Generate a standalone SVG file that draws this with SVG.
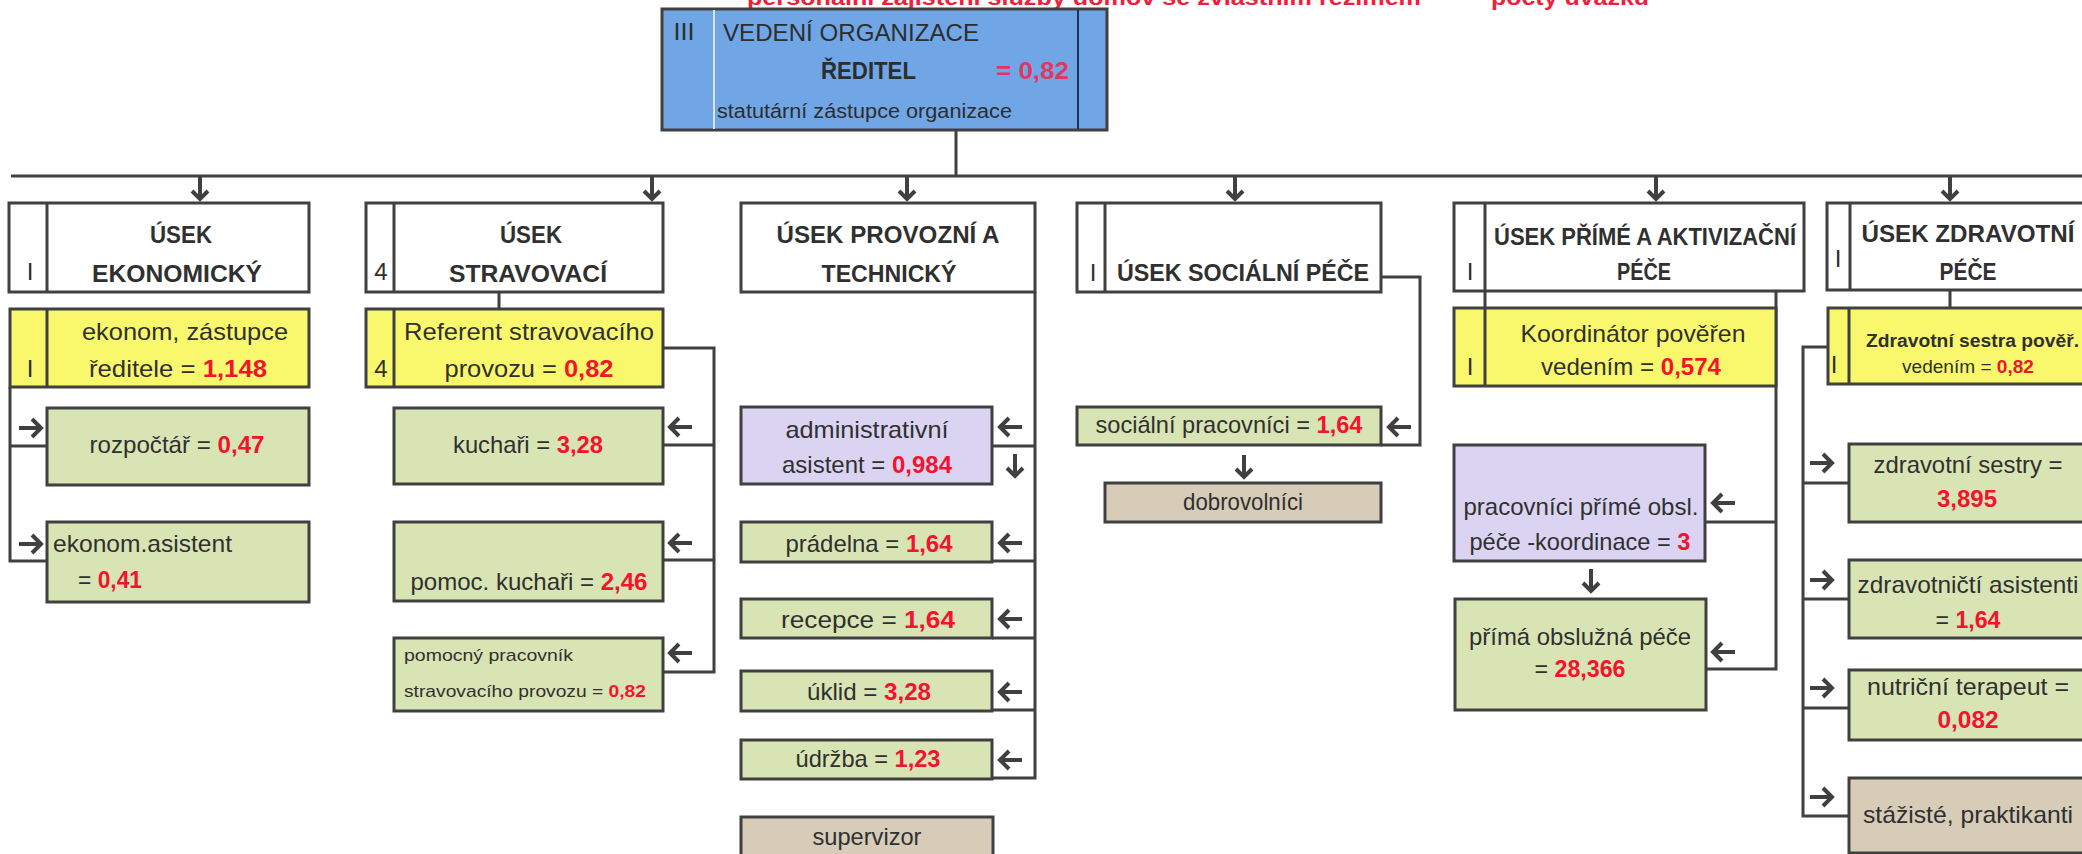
<svg xmlns="http://www.w3.org/2000/svg" xmlns:xlink="http://www.w3.org/1999/xlink" width="2082" height="854" viewBox="0 0 2082 854">
<style>
.bx{stroke:#404040;stroke-width:3}
.wh{fill:#ffffff}.ye{fill:#f9f86c}.gr{fill:#d8e4b3}.lv{fill:#dad4f2}.tn{fill:#d6ccb7}.bl{fill:#70a6e6}
.dv{stroke:#404040;stroke-width:3;fill:none}
.cn{stroke:#404040;stroke-width:3;fill:none}
.ar{stroke:#404040;stroke-width:4;fill:none;stroke-linejoin:miter}
text{font-family:"Liberation Sans",Arial,sans-serif;font-size:24px;fill:#303030}
.c{text-anchor:middle}
.b{font-weight:bold}
.r{fill:#f2142e;font-weight:bold}
.s{font-size:17px}
.m{font-size:18px}
</style>
<defs>
<path id="aL" class="ar" d="M11,0 H-11 M-2,-9 L-11,0 L-2,9"/>
<path id="aR" class="ar" d="M-11,0 H11 M2,-9 L11,0 L2,9"/>
<path id="aD" class="ar" d="M0,-11 V11 M-8,3 L0,11 L8,3"/>
</defs>
<rect width="2082" height="854" fill="#ffffff"/>

<text class="b" x="747" y="5" textLength="674" lengthAdjust="spacingAndGlyphs" style="fill:#f0203c;font-size:22px">personální zajištění služby domov se zvláštním režimem</text>
<text class="b" x="1491" y="5" textLength="158" lengthAdjust="spacingAndGlyphs" style="fill:#f0203c;font-size:22px">počty úvazků</text>

<g id="connectors">
<path class="cn" d="M956,130 V176"/>
<path class="cn" d="M11,176 H2090"/>
<path class="cn" d="M10,387 V561 H47 M10,446 H47"/>
<path class="cn" d="M499,292 V309 M663,348 H714 V672 H663 M714,445 H663 M714,560 H663"/>
<path class="cn" d="M1035,292 V778 H992 M1035,446 H992 M1035,561 H992 M1035,638 H992 M1035,710 H992"/>
<path class="cn" d="M1381,277 H1420 V445 H1381"/>
<path class="cn" d="M1485,291 V309 M1776,291 V669 H1706 M1776,522 H1705"/>
<path class="cn" d="M1950,290 V308 M1828,347 H1803 V816 H1849 M1803,483 H1849 M1803,599 H1849 M1803,708 H1849"/>
<use xlink:href="#aD" x="200" y="188"/>
<use xlink:href="#aD" x="652" y="188"/>
<use xlink:href="#aD" x="907" y="188"/>
<use xlink:href="#aD" x="1235" y="188"/>
<use xlink:href="#aD" x="1656" y="188"/>
<use xlink:href="#aD" x="1950" y="188"/>
<use xlink:href="#aR" x="30" y="428"/>
<use xlink:href="#aR" x="30" y="544"/>
<use xlink:href="#aL" x="681" y="427"/>
<use xlink:href="#aL" x="681" y="543"/>
<use xlink:href="#aL" x="681" y="653"/>
<use xlink:href="#aL" x="1011" y="427"/>
<use xlink:href="#aD" x="1015" y="465"/>
<use xlink:href="#aL" x="1011" y="543"/>
<use xlink:href="#aL" x="1011" y="619"/>
<use xlink:href="#aL" x="1011" y="692"/>
<use xlink:href="#aL" x="1011" y="760"/>
<use xlink:href="#aL" x="1400" y="427"/>
<use xlink:href="#aD" x="1244" y="466"/>
<use xlink:href="#aL" x="1724" y="503"/>
<use xlink:href="#aD" x="1591" y="580"/>
<use xlink:href="#aL" x="1724" y="652"/>
<use xlink:href="#aR" x="1821" y="463"/>
<use xlink:href="#aR" x="1821" y="580"/>
<use xlink:href="#aR" x="1821" y="688"/>
<use xlink:href="#aR" x="1821" y="797"/>
</g>

<g id="reditel">
<rect class="bx bl" x="662" y="9" width="445" height="121"/>
<line x1="714" y1="10" x2="714" y2="129" stroke="#d8e4f4" stroke-width="2"/>
<line x1="1078" y1="10" x2="1078" y2="129" stroke="#1f3450" stroke-width="2"/>
<text x="684" y="40" class="c" textLength="21" lengthAdjust="spacingAndGlyphs" style="fill:#2d2d2d">III</text>
<text x="723" y="41" textLength="256" lengthAdjust="spacingAndGlyphs" style="fill:#2d2d2d">VEDENÍ ORGANIZACE</text>
<text x="821" y="79" class="b" textLength="95" lengthAdjust="spacingAndGlyphs" style="fill:#2d2d2d">ŘEDITEL</text>
<text x="996" y="79" class="b" textLength="73" lengthAdjust="spacingAndGlyphs" style="fill:#e2365f">= 0,82</text>
<text x="717" y="118" textLength="295" lengthAdjust="spacingAndGlyphs" style="font-size:20px;fill:#2d2d2d">statutární zástupce organizace</text>
</g>

<g id="usek-ekonomicky">
<rect class="bx wh" x="9" y="203" width="300" height="89"/>
<line class="dv" x1="47" y1="203" x2="47" y2="292"/>
<text x="30" y="280" class="c">I</text>
<text x="181" y="243" class="c b" textLength="62" lengthAdjust="spacingAndGlyphs">ÚSEK</text>
<text x="177" y="282" class="c b" textLength="170" lengthAdjust="spacingAndGlyphs">EKONOMICKÝ</text>
</g>
<g id="ekonom">
<rect class="bx ye" x="10" y="309" width="299" height="78"/>
<line class="dv" x1="47" y1="309" x2="47" y2="387"/>
<text x="30" y="377" class="c">I</text>
<text x="185" y="340" class="c" textLength="206" lengthAdjust="spacingAndGlyphs">ekonom, zástupce</text>
<text x="178" y="377" class="c" textLength="178" lengthAdjust="spacingAndGlyphs">ředitele = <tspan class="r">1,148</tspan></text>
</g>
<g id="rozpoctar">
<rect class="bx gr" x="47" y="408" width="262" height="77"/>
<text x="177" y="453" class="c" textLength="175" lengthAdjust="spacingAndGlyphs">rozpočtář = <tspan class="r">0,47</tspan></text>
</g>
<g id="ekonom-asistent">
<rect class="bx gr" x="47" y="522" width="262" height="80"/>
<text x="53" y="552" textLength="179" lengthAdjust="spacingAndGlyphs">ekonom.asistent</text>
<text x="78" y="588" textLength="64" lengthAdjust="spacingAndGlyphs">= <tspan class="r">0,41</tspan></text>
</g>

<g id="usek-stravovaci">
<rect class="bx wh" x="366" y="203" width="297" height="89"/>
<line class="dv" x1="394" y1="203" x2="394" y2="292"/>
<text x="381" y="280" class="c">4</text>
<text x="531" y="243" class="c b" textLength="62" lengthAdjust="spacingAndGlyphs">ÚSEK</text>
<text x="528" y="282" class="c b" textLength="158" lengthAdjust="spacingAndGlyphs">STRAVOVACÍ</text>
</g>
<g id="referent">
<rect class="bx ye" x="366" y="309" width="297" height="78"/>
<line class="dv" x1="394" y1="309" x2="394" y2="387"/>
<text x="381" y="377" class="c">4</text>
<text x="529" y="340" class="c" textLength="250" lengthAdjust="spacingAndGlyphs">Referent stravovacího</text>
<text x="529" y="377" class="c" textLength="169" lengthAdjust="spacingAndGlyphs">provozu = <tspan class="r">0,82</tspan></text>
</g>
<g id="kuchari">
<rect class="bx gr" x="394" y="408" width="269" height="76"/>
<text x="528" y="453" class="c" textLength="150" lengthAdjust="spacingAndGlyphs">kuchaři = <tspan class="r">3,28</tspan></text>
</g>
<g id="pomoc-kuchari">
<rect class="bx gr" x="394" y="522" width="269" height="79"/>
<text x="529" y="590" class="c" textLength="237" lengthAdjust="spacingAndGlyphs">pomoc. kuchaři = <tspan class="r">2,46</tspan></text>
</g>
<g id="pomocny-pracovnik">
<rect class="bx gr" x="394" y="638" width="269" height="73"/>
<text x="404" y="661" class="s" textLength="169" lengthAdjust="spacingAndGlyphs">pomocný pracovník</text>
<text x="404" y="697" class="s" textLength="242" lengthAdjust="spacingAndGlyphs">stravovacího provozu = <tspan class="r">0,82</tspan></text>
</g>

<g id="usek-provozni">
<rect class="bx wh" x="741" y="203" width="294" height="89"/>
<text x="888" y="243" class="c b" textLength="223" lengthAdjust="spacingAndGlyphs">ÚSEK PROVOZNÍ A</text>
<text x="889" y="282" class="c b" textLength="135" lengthAdjust="spacingAndGlyphs">TECHNICKÝ</text>
</g>
<g id="administrativni">
<rect class="bx lv" x="741" y="407" width="251" height="77"/>
<text x="867" y="438" class="c" textLength="163" lengthAdjust="spacingAndGlyphs">administrativní</text>
<text x="867" y="473" class="c" textLength="170" lengthAdjust="spacingAndGlyphs">asistent = <tspan class="r">0,984</tspan></text>
</g>
<g id="pradelna">
<rect class="bx gr" x="741" y="522" width="251" height="40"/>
<text x="869" y="552" class="c" textLength="167" lengthAdjust="spacingAndGlyphs">prádelna = <tspan class="r">1,64</tspan></text>
</g>
<g id="recepce">
<rect class="bx gr" x="741" y="599" width="251" height="39"/>
<text x="868" y="628" class="c" textLength="174" lengthAdjust="spacingAndGlyphs">recepce = <tspan class="r">1,64</tspan></text>
</g>
<g id="uklid">
<rect class="bx gr" x="741" y="671" width="251" height="40"/>
<text x="869" y="700" class="c" textLength="124" lengthAdjust="spacingAndGlyphs">úklid = <tspan class="r">3,28</tspan></text>
</g>
<g id="udrzba">
<rect class="bx gr" x="741" y="740" width="251" height="39"/>
<text x="868" y="767" class="c" textLength="145" lengthAdjust="spacingAndGlyphs">údržba = <tspan class="r">1,23</tspan></text>
</g>
<g id="supervizor">
<rect class="bx tn" x="741" y="817" width="252" height="60"/>
<text x="867" y="845" class="c" textLength="109" lengthAdjust="spacingAndGlyphs">supervizor</text>
</g>

<g id="usek-socialni">
<rect class="bx wh" x="1077" y="203" width="304" height="89"/>
<line class="dv" x1="1105" y1="203" x2="1105" y2="292"/>
<text x="1093" y="281" class="c">I</text>
<text x="1243" y="281" class="c b" textLength="252" lengthAdjust="spacingAndGlyphs">ÚSEK SOCIÁLNÍ PÉČE</text>
</g>
<g id="socialni-pracovnici">
<rect class="bx gr" x="1077" y="407" width="304" height="38"/>
<text x="1229" y="433" class="c" textLength="267" lengthAdjust="spacingAndGlyphs">sociální pracovníci = <tspan class="r">1,64</tspan></text>
</g>
<g id="dobrovolnici">
<rect class="bx tn" x="1105" y="483" width="276" height="39"/>
<text x="1243" y="510" class="c" textLength="120" lengthAdjust="spacingAndGlyphs">dobrovolníci</text>
</g>

<g id="usek-prime">
<rect class="bx wh" x="1454" y="203" width="350" height="88"/>
<line class="dv" x1="1485" y1="203" x2="1485" y2="291"/>
<text x="1470" y="280" class="c">I</text>
<text x="1645" y="245" class="c b" textLength="302" lengthAdjust="spacingAndGlyphs">ÚSEK PŘÍMÉ A AKTIVIZAČNÍ</text>
<text x="1644" y="280" class="c b" textLength="54" lengthAdjust="spacingAndGlyphs">PÉČE</text>
</g>
<g id="koordinator">
<rect class="bx ye" x="1454" y="308" width="322" height="78"/>
<line class="dv" x1="1485" y1="308" x2="1485" y2="386"/>
<text x="1470" y="375" class="c">I</text>
<text x="1633" y="342" class="c" textLength="225" lengthAdjust="spacingAndGlyphs">Koordinátor pověřen</text>
<text x="1631" y="375" class="c" textLength="180" lengthAdjust="spacingAndGlyphs">vedením = <tspan class="r">0,574</tspan></text>
</g>
<g id="pracovnici-prime">
<rect class="bx lv" x="1454" y="445" width="251" height="116"/>
<text x="1581" y="515" class="c" textLength="235" lengthAdjust="spacingAndGlyphs">pracovníci přímé obsl.</text>
<text x="1580" y="550" class="c" textLength="221" lengthAdjust="spacingAndGlyphs">péče -koordinace = <tspan class="r">3</tspan></text>
</g>
<g id="prima-obsluzna">
<rect class="bx gr" x="1455" y="599" width="251" height="111"/>
<text x="1580" y="645" class="c" textLength="222" lengthAdjust="spacingAndGlyphs">přímá obslužná péče</text>
<text x="1580" y="677" class="c" textLength="91" lengthAdjust="spacingAndGlyphs">= <tspan class="r">28,366</tspan></text>
</g>

<g id="usek-zdravotni">
<rect class="bx wh" x="1827" y="203" width="270" height="87"/>
<line class="dv" x1="1850" y1="203" x2="1850" y2="290"/>
<text x="1838" y="267" class="c">I</text>
<text x="1968" y="242" class="c b" textLength="213" lengthAdjust="spacingAndGlyphs">ÚSEK ZDRAVOTNÍ</text>
<text x="1968" y="280" class="c b" textLength="57" lengthAdjust="spacingAndGlyphs">PÉČE</text>
</g>
<g id="zdravotni-sestra-poverena">
<rect class="bx ye" x="1828" y="308" width="270" height="76"/>
<line class="dv" x1="1849" y1="308" x2="1849" y2="384"/>
<text x="1834" y="373" class="c">I</text>
<text x="1866" y="347" class="m b" textLength="213" lengthAdjust="spacingAndGlyphs">Zdravotní sestra pověř.</text>
<text x="1968" y="373" class="c m" textLength="132" lengthAdjust="spacingAndGlyphs">vedením = <tspan class="r">0,82</tspan></text>
</g>
<g id="zdravotni-sestry">
<rect class="bx gr" x="1849" y="444" width="250" height="78"/>
<text x="1968" y="473" class="c" textLength="189" lengthAdjust="spacingAndGlyphs">zdravotní sestry =</text>
<text x="1967" y="507" class="c r" textLength="60" lengthAdjust="spacingAndGlyphs">3,895</text>
</g>
<g id="zdravotnicti-asistenti">
<rect class="bx gr" x="1849" y="560" width="250" height="78"/>
<text x="1968" y="593" class="c" textLength="221" lengthAdjust="spacingAndGlyphs">zdravotničtí asistenti</text>
<text x="1968" y="628" class="c" textLength="65" lengthAdjust="spacingAndGlyphs">= <tspan class="r">1,64</tspan></text>
</g>
<g id="nutricni-terapeut">
<rect class="bx gr" x="1849" y="670" width="250" height="70"/>
<text x="1968" y="695" class="c" textLength="202" lengthAdjust="spacingAndGlyphs">nutriční terapeut =</text>
<text x="1968" y="728" class="c r" textLength="61" lengthAdjust="spacingAndGlyphs">0,082</text>
</g>
<g id="staziste">
<rect class="bx tn" x="1849" y="778" width="250" height="75"/>
<text x="1968" y="823" class="c" textLength="210" lengthAdjust="spacingAndGlyphs">stážisté, praktikanti</text>
</g>
</svg>
